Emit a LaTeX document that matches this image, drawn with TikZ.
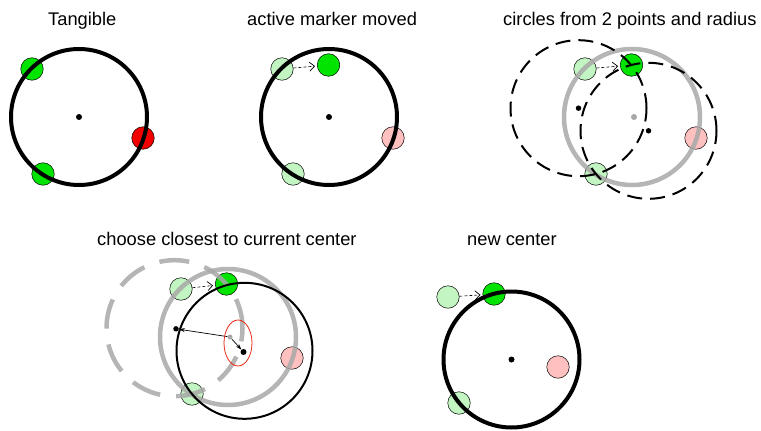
\documentclass[tikz,border=0pt]{standalone}
\usepackage{fontspec}
\setmainfont{Liberation Sans}
\usetikzlibrary{arrows.meta}
\definecolor{bgreen}{RGB}{0,228,0}
\definecolor{lgreen}{RGB}{194,245,194}
\definecolor{redm}{RGB}{242,0,0}
\definecolor{pinkm}{RGB}{255,192,192}
\definecolor{cgray}{RGB}{168,168,168}
\definecolor{ellred}{RGB}{235,40,20}
\begin{document}
\begin{tikzpicture}[x=1pt,y=-1pt,
  marker/.style={circle, draw=black, line width=0.5pt, minimum size=22.5pt, inner sep=0pt},
  mbright/.style={marker, fill=bgreen},
  mlight/.style={marker, fill=lgreen},
  mredstyle/.style={marker, fill=redm},
  mpink/.style={marker, fill=pinkm},
  title/.style={anchor=base west, font=\fontsize{18.3}{21}\selectfont, inner sep=0pt},
  thickring/.style={draw=black, line width=4pt},
  thinring/.style={draw=black, line width=2pt},
  grayring/.style={draw=cgray, line width=4.5pt, draw opacity=0.85},
  dashring/.style={draw=black, line width=2pt, dash pattern=on 15pt off 8pt},
  graydashring/.style={draw=cgray, line width=4.5pt, dash pattern=on 30pt off 16pt, draw opacity=0.85},
  dot/.style={circle, fill=black, minimum size=6pt, inner sep=0pt},
  graydot/.style={circle, fill=cgray, minimum size=6pt, inner sep=0pt},
  movearrow/.style={draw=black, line width=0.6pt, dash pattern=on 3pt off 2pt, shorten >=2pt,
    -{Straight Barb[length=5pt,width=9pt,line width=0.7pt]}},
  distarrow/.style={draw=black, line width=0.7pt, -{Stealth[length=6pt,width=4pt]}},
  ellipsestyle/.style={draw=ellred, line width=0.8pt}
]
\useasboundingbox (0,0) rectangle (761,431);

% titles
\node[title] (t1) at (48,25) {Tangible};
\node[title] (t2) at (247,25) {active marker moved};
\node[title] (t3) at (503,25) {circles from 2 points and radius};
\node[title] (t4) at (97,245) {choose closest to current center};
\node[title] (t5) at (467,245) {new center};

% panel 1
\begin{scope}
  \node[mbright] (a1) at (32,69) {};
  \node[mbright] (a2) at (43,174) {};
  \node[mredstyle] (a3) at (143,138) {};
  \draw[thickring] (79,117) circle[radius=68pt];
  \node[dot] (ac) at (79,117) {};
\end{scope}

% panel 2
\begin{scope}[shift={(250,0)}]
  \node[mlight] (b1) at (32,69) {};
  \node[mlight] (b2) at (43,174) {};
  \node[mpink] (b3) at (143,138) {};
  \node[mbright] (bn) at (78.5,65) {};
  \draw[thickring] (79,117) circle[radius=68pt];
  \node[dot] (bc) at (79,117) {};
  \draw[movearrow] (b1) -- (bn);
\end{scope}

% panel 3
\begin{scope}[shift={(553,0)}]
  \node[mlight] (c1) at (32,69) {};
  \node[mlight] (c2) at (43,174) {};
  \node[mpink] (c3) at (143,138) {};
  \node[mbright] (cn) at (78.5,65) {};
  \draw[grayring] (79,117) circle[radius=68pt];
  \node[graydot] (cc) at (81,117) {};
  \draw[dashring] (25.5,108.2) circle[radius=68pt];
  \draw[dashring] (95.5,130.8) circle[radius=68pt];
  \node[dot, minimum size=5.5pt] (ca) at (25.5,108.2) {};
  \node[dot, minimum size=5.5pt] (cb) at (95.5,130.8) {};
  \draw[movearrow] (c1) -- (cn);
\end{scope}

% panel 4
\begin{scope}[shift={(149,220)}]
  \node[mlight] (d1) at (32,69) {};
  \node[mlight] (d2) at (43,174) {};
  \node[mpink] (d3) at (143,138) {};
  \node[mbright] (dn) at (77.5,64) {};
  \draw[graydashring] (25.5,108.2) circle[radius=68pt];
  \draw[grayring] (79,117) circle[radius=68pt];
  \draw[thinring] (95.5,130.8) circle[radius=68pt];
  \node[graydot, minimum size=5pt] (dc) at (81,117) {};
  \node[dot, minimum size=5.5pt] (da) at (27,108.8) {};
  \node[dot] (db) at (94.5,132) {};
  \draw[distarrow] (dc) -- (da);
  \draw[distarrow] (dc) -- (db);
  \draw[ellipsestyle] (89,123) ellipse[x radius=14pt, y radius=23pt];
  \draw[movearrow] (d1) -- (dn);
\end{scope}

% panel 5
\begin{scope}[shift={(416,228)}]
  \node[mlight] (e1) at (32,69) {};
  \node[mlight] (e2) at (43,175) {};
  \node[mpink] (e3) at (142,139) {};
  \node[mbright] (en) at (78,66) {};
  \draw[thickring] (95.5,131.5) circle[radius=68pt];
  \node[dot] (ec) at (95.5,131.5) {};
  \draw[movearrow] (e1) -- (en);
\end{scope}
\end{tikzpicture}
\end{document}
